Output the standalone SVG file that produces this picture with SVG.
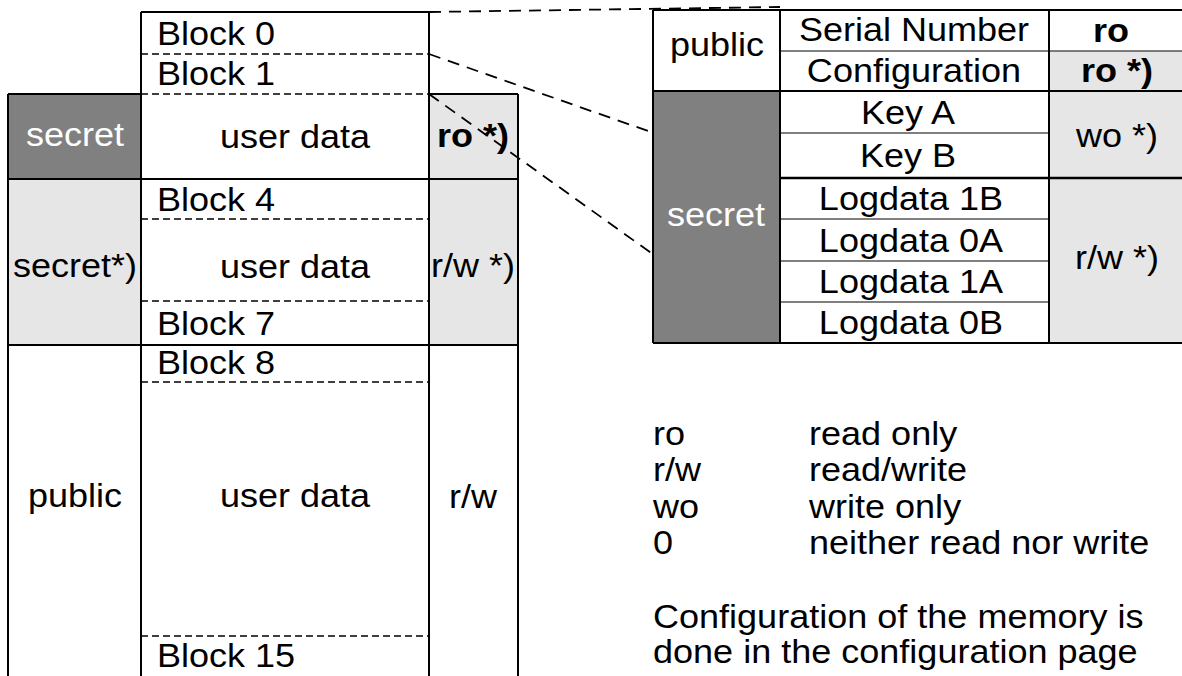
<svg xmlns="http://www.w3.org/2000/svg" width="1182" height="676" viewBox="0 0 1182 676">
<style>
.t{font-family:"Liberation Sans",Arial,sans-serif;font-size:34px;fill:#000}
.m{text-anchor:middle}
.w{fill:#fff}
.b{font-weight:bold}
.ln{stroke:#000;stroke-width:2;fill:none}
.th{stroke:#000;stroke-width:2.5;fill:none}
.dv{stroke:#000;stroke-width:1.7;stroke-dasharray:7 4;fill:none}
.tn{stroke:#555;stroke-width:1.5;fill:none}
.conn{stroke:#000;stroke-width:1.8;stroke-dasharray:12 8;fill:none}
.dark{fill:#808080}
.lite{fill:#e6e6e6}
</style>
<rect width="1182" height="676" fill="#fff"/>

<g id="left-memory">
  <g id="left-fills">
    <rect class="dark" x="8" y="94" width="133" height="85"/>
    <rect class="lite" x="8" y="179" width="133" height="166"/>
    <rect class="lite" x="429" y="94" width="89" height="251"/>
  </g>
  <g id="left-grid">
    <path class="ln" d="M141 12H429M141 12V676M429 12V676M8 94V676M518 94V676M8 94H141M429 94H518M8 179H518M8 345H518"/>
    <path class="dv" d="M141 54H429M141 94H429M141 219H429M141 301H429M141 382H429M141 636H429"/>
  </g>
  <g id="block0"><text class="t" transform="translate(157,45) scale(1.06,1)">Block 0</text></g>
  <g id="block1"><text class="t" transform="translate(157,85) scale(1.06,1)">Block 1</text></g>
  <g id="row-secret">
    <text class="t m w" transform="translate(75,146) scale(1.06,1)">secret</text>
    <text class="t m" transform="translate(295,148) scale(1.06,1)">user data</text>
    <text class="t m b" transform="translate(473,147) scale(1.06,1)">ro *)</text>
  </g>
  <g id="row-secret-star">
    <text class="t" transform="translate(157,211) scale(1.06,1)">Block 4</text>
    <text class="t m" transform="translate(75,277) scale(1.06,1)">secret*)</text>
    <text class="t m" transform="translate(295,278) scale(1.06,1)">user data</text>
    <text class="t m" transform="translate(473,277) scale(1.06,1)">r/w *)</text>
    <text class="t" transform="translate(157,335) scale(1.06,1)">Block 7</text>
  </g>
  <g id="row-public">
    <text class="t" transform="translate(157,374) scale(1.06,1)">Block 8</text>
    <text class="t m" transform="translate(75,507) scale(1.06,1)">public</text>
    <text class="t m" transform="translate(295,507) scale(1.06,1)">user data</text>
    <text class="t m" transform="translate(473,508) scale(1.06,1)">r/w</text>
    <text class="t" transform="translate(157,667) scale(1.06,1)">Block 15</text>
  </g>
</g>

<g id="connectors">
  <path class="conn" d="M429 12L780 7"/>
  <path class="conn" d="M429 54L779 177"/>
  <path class="conn" d="M429 94L777 343"/>
</g>

<g id="block-detail">
  <g id="detail-fills">
    <rect class="dark" x="653" y="91" width="127" height="252"/>
    <rect class="lite" x="1049" y="51" width="135" height="292"/>
  </g>
  <g id="detail-grid">
    <path class="tn" d="M780 51H1184M780 133H1049M780 219H1049M780 261H1049M780 302H1049"/>
    <path class="ln" d="M653 10H1184M653 10V343M653 343H1184M780 10V343M1049 10V343M653 91H1184"/>
    <path class="th" d="M780 178H1184"/>
  </g>
  <g id="cell-public"><text class="t m" transform="translate(717,56) scale(1.06,1)">public</text></g>
  <g id="cell-secret"><text class="t m w" transform="translate(716,226) scale(1.06,1)">secret</text></g>
  <g id="cell-serial">
    <text class="t m" transform="translate(914,41) scale(1.06,1)">Serial Number</text>
    <text class="t m b" transform="translate(1111,42) scale(1.06,1)">ro</text>
  </g>
  <g id="cell-config">
    <text class="t m" transform="translate(914,82) scale(1.06,1)">Configuration</text>
    <text class="t m b" transform="translate(1117,82) scale(1.06,1)">ro *)</text>
  </g>
  <g id="cell-keys">
    <text class="t m" transform="translate(908,124) scale(1.06,1)">Key A</text>
    <text class="t m" transform="translate(908,167) scale(1.06,1)">Key B</text>
    <text class="t m" transform="translate(1117,147) scale(1.06,1)">wo *)</text>
  </g>
  <g id="cell-logdata">
    <text class="t m" transform="translate(911,210) scale(1.06,1)">Logdata 1B</text>
    <text class="t m" transform="translate(911,252) scale(1.06,1)">Logdata 0A</text>
    <text class="t m" transform="translate(911,293) scale(1.06,1)">Logdata 1A</text>
    <text class="t m" transform="translate(911,334) scale(1.06,1)">Logdata 0B</text>
    <text class="t m" transform="translate(1117,269) scale(1.06,1)">r/w *)</text>
  </g>
</g>

<g id="legend">
  <text class="t" transform="translate(653,445) scale(1.06,1)">ro</text>
  <text class="t" transform="translate(809,445) scale(1.06,1)">read only</text>
  <text class="t" transform="translate(653,481) scale(1.06,1)">r/w</text>
  <text class="t" transform="translate(809,481) scale(1.06,1)">read/write</text>
  <text class="t" transform="translate(653,518) scale(1.06,1)">wo</text>
  <text class="t" transform="translate(809,518) scale(1.06,1)">write only</text>
  <text class="t" transform="translate(653,554) scale(1.06,1)">0</text>
  <text class="t" transform="translate(809,554) scale(1.06,1)">neither read nor write</text>
  <text class="t" transform="translate(653,628) scale(1.06,1)">Configuration of the memory is</text>
  <text class="t" transform="translate(653,663) scale(1.06,1)">done in the configuration page</text>
</g>
</svg>
